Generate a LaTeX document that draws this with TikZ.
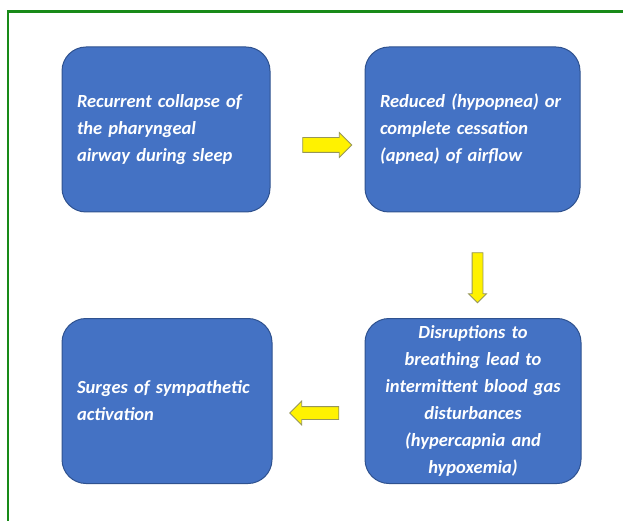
\documentclass[tikz,border=0pt]{standalone}
\usepackage{fontspec}
\setmainfont{Carlito}
\usetikzlibrary{shapes.arrows}
\definecolor{boxblue}{RGB}{68,114,196}
\definecolor{boxedge}{RGB}{47,82,143}
\definecolor{framegreen}{RGB}{24,138,24}
\definecolor{arrowedge}{RGB}{150,150,90}

\begin{document}
\begin{tikzpicture}[x=1pt,y=-1pt,
  stage/.style={draw=boxedge,line width=1pt,fill=boxblue,rounded corners=24pt,
    minimum height=165pt,inner xsep=15pt,inner ysep=0pt,text=white,
    font=\fontsize{18.5}{27}\selectfont\bfseries\itshape},
  flow/.style={single arrow,draw=arrowedge,fill=yellow,line width=0.8pt,inner xsep=0pt}]
  \useasboundingbox (0,0) rectangle (623,521);
  \draw[framegreen,line width=2.5pt] (8,530) -- (8,11.5) -- (630,11.5);
  % the four stages
  \node[stage,text width=178pt,align=left] (recur) at (166,129.5)
    {Recurrent collapse of\\the pharyngeal\\airway during sleep};
  \node[stage,text width=185pt,align=left] (reduced) at (472.5,129.5)
    {Reduced (hypopnea) or\\complete cessation\\(apnea) of airflow};
  \node[stage,text width=186pt,align=center] (disrupt) at (473,401)
    {Disruptions to\\breathing lead to\\intermittent blood gas\\disturbances\\(hypercapnia and\\hypoxemia)};
  \node[stage,text width=180pt,align=left] (surges) at (167,401)
    {Surges of sympathetic\\activation};
  % block arrows between them
  \node[flow,inner ysep=7pt,single arrow head extend=5pt,minimum height=49pt] (a1) at (323.5,145) {};
  \node[flow,inner xsep=5pt,inner ysep=0pt,single arrow head extend=3.5pt,minimum height=50pt,shape border rotate=270] (a2) at (477.5,275) {};
  \node[flow,inner ysep=6pt,single arrow head extend=5.5pt,minimum height=49pt,shape border rotate=180] (a3) at (317.5,413) {};
\end{tikzpicture}
\end{document}
